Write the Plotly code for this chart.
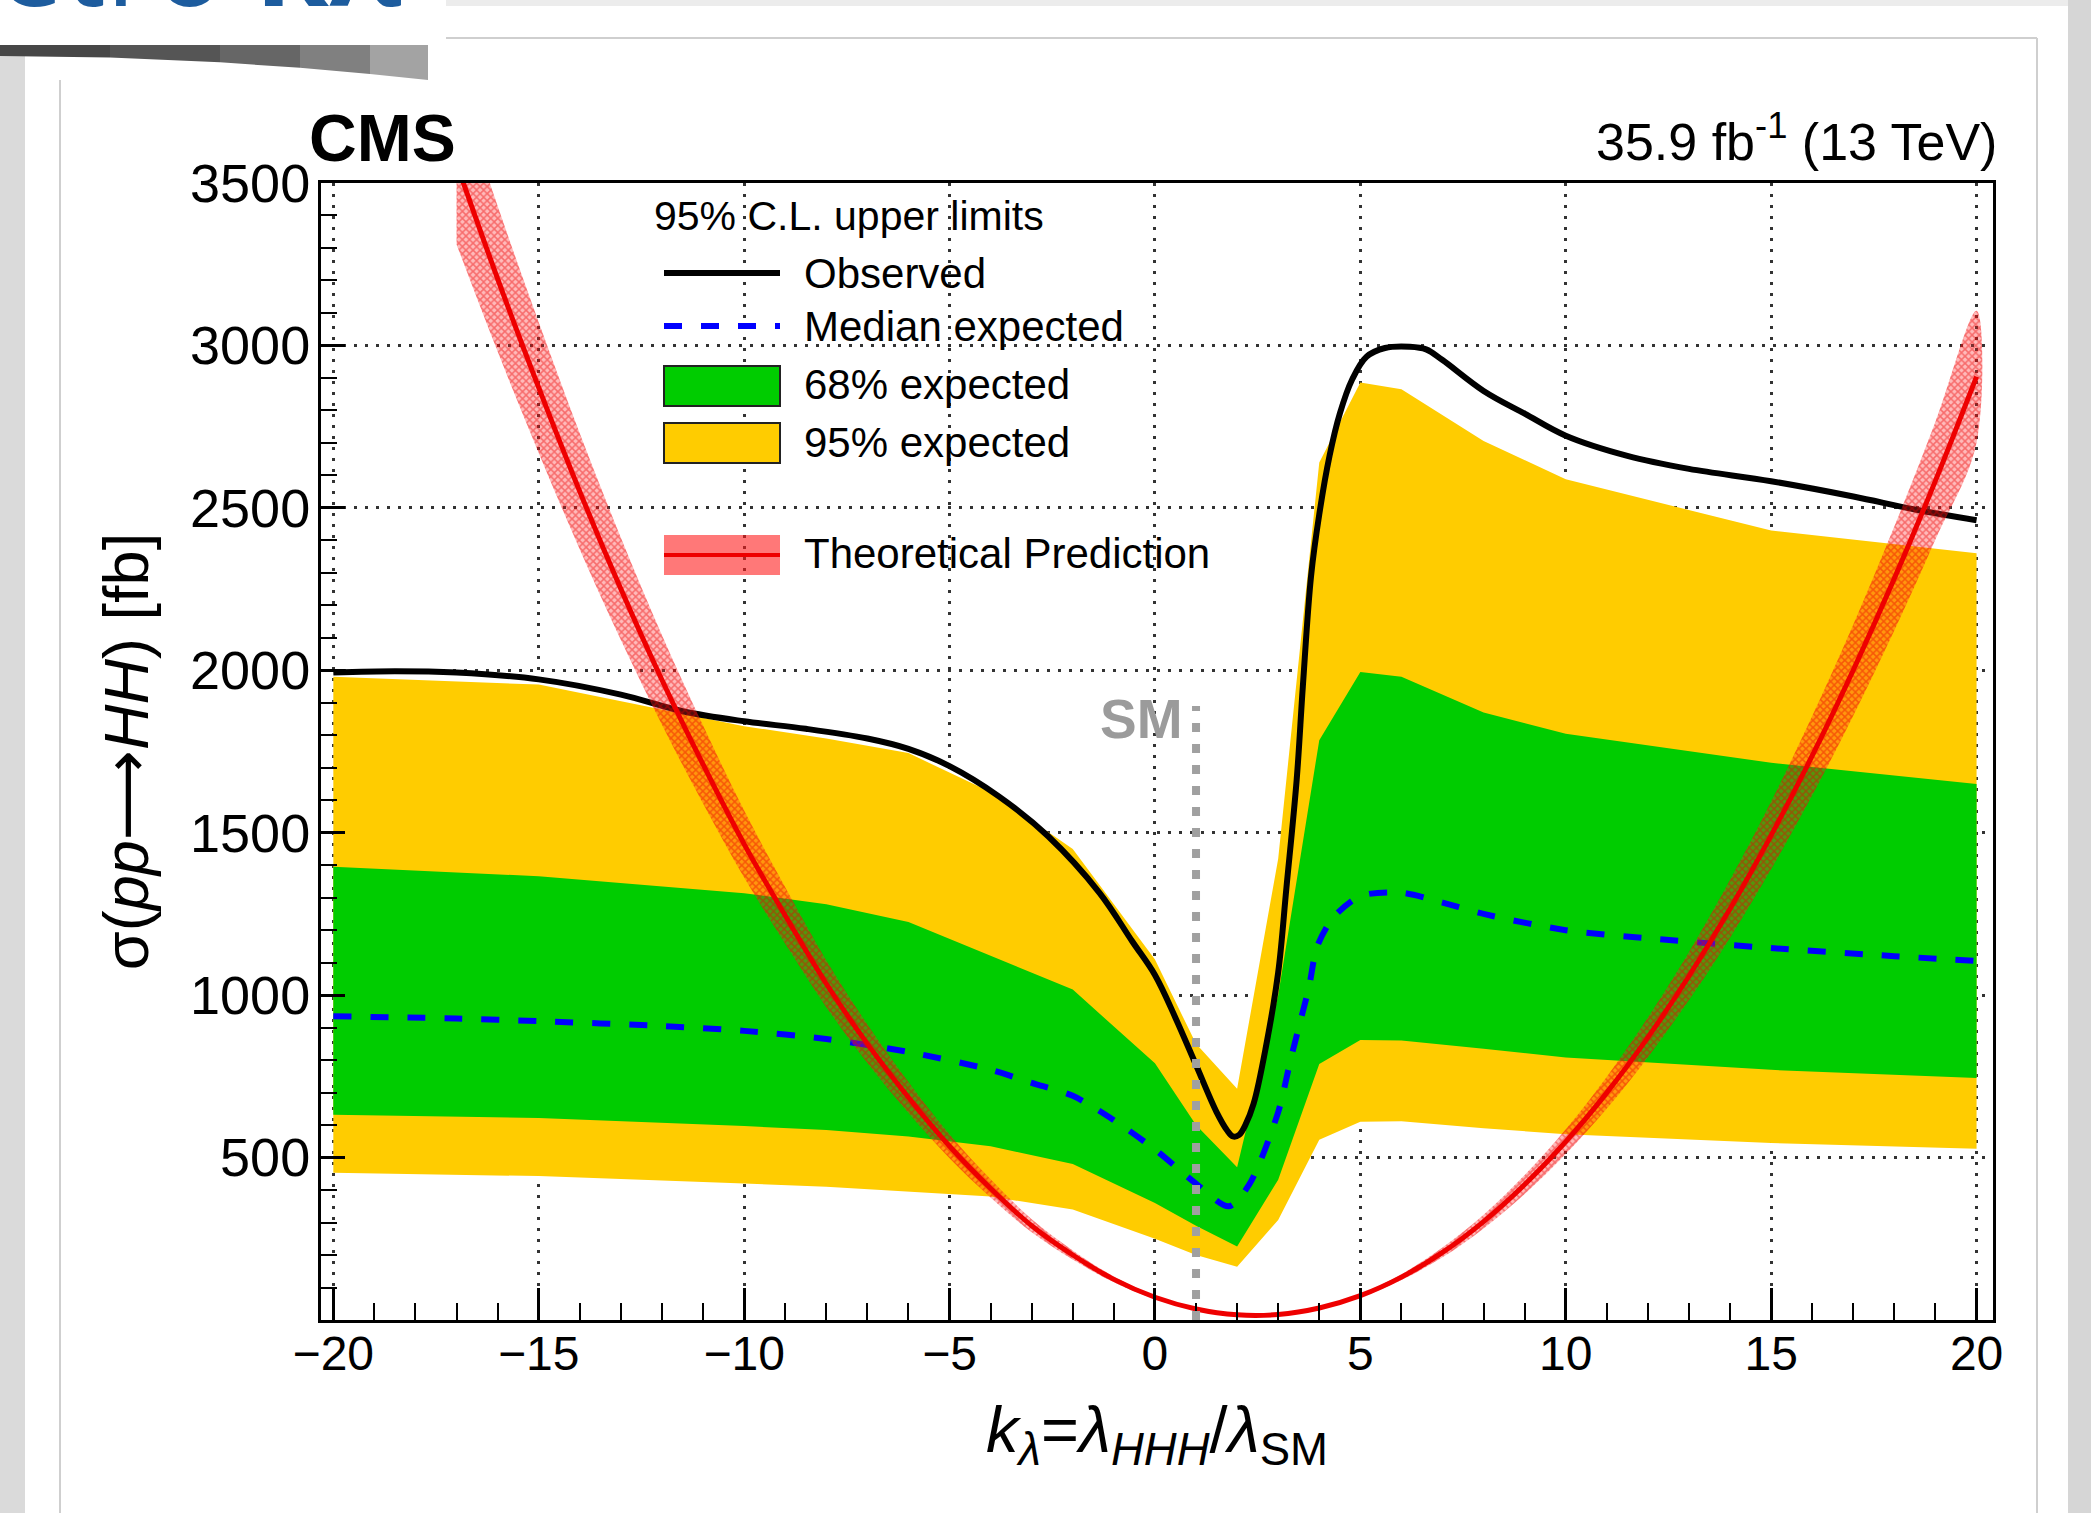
import plotly.graph_objects as go

# ---------------------------------------------------------------------------
# Data: 95% CL upper limits on sigma(pp -> HH) versus k_lambda
# ---------------------------------------------------------------------------
band_kl = [-20, -15, -10, -8, -6, -4, -2, 0, 1, 2, 3, 4, 5, 6, 8, 10, 15, 20]
exp95_hi = [1980, 1956, 1828, 1790, 1745, 1625, 1450, 1110, 850, 712, 1420, 2640, 2886, 2865, 2706, 2588, 2430, 2360]
exp68_hi = [1395, 1366, 1314, 1280, 1225, 1120, 1017, 790, 600, 470, 1000, 1785, 1995, 1980, 1870, 1805, 1715, 1650]
exp68_lo = [632, 622, 597, 585, 565, 535, 480, 360, 290, 226, 432, 788, 862, 860, 835, 808, 770, 745]
exp95_lo = [453, 443, 420, 410, 395, 380, 340, 250, 200, 164, 308, 555, 610, 612, 590, 572, 545, 527]

median_kl = [-20, -17, -15, -12, -10, -8, -6, -4, -3, -2, -1, 0, 1, 1.8, 2.3, 3.0, 3.3, 3.5,
             3.75, 3.95, 4.35, 5, 6, 7, 8, 10, 12, 15, 18, 20]
median_exp = [935, 928, 920, 905, 890, 865, 825, 770, 730, 690, 615, 525, 420, 350, 418, 640, 800, 900,
              1025, 1150, 1240, 1305, 1315, 1285, 1250, 1200, 1175, 1145, 1120, 1105]

observed_kl = [-20, -18.5, -17, -15, -13, -11.5, -10, -8.5, -7, -6, -5, -3.8, -2.6, -1.35, -0.55,
               0, 0.5, 1, 1.5, 1.75, 1.9, 2.05, 2.2, 2.4, 2.7, 3.0, 3.2, 3.45, 3.6, 3.8, 4.0,
               4.25, 4.5, 4.8, 5.15, 5.6, 6.2, 6.6, 7, 8, 9, 10, 11.5, 13, 15, 17, 18.5, 20]
observed = [1993, 1997, 1993, 1972, 1925, 1874, 1843, 1820, 1790, 1758, 1705, 1612, 1489, 1315, 1165,
            1062, 930, 785, 640, 585, 565, 570, 600, 665, 840, 1070, 1330, 1663, 1950, 2290, 2480,
            2660, 2790, 2895, 2965, 2992, 2996, 2988, 2955, 2860, 2790, 2722, 2660, 2620, 2582, 2535,
            2495, 2462]

theory_kl = list(range(-17, 21))
theory = [3560, 3205, 2870, 2550, 2250, 1970, 1710, 1465, 1245, 1035, 850, 685, 535, 405, 290, 200,
          125, 70, 34, 16, 17, 37, 75, 132, 208, 303, 417, 549, 700, 870, 1059, 1266, 1492, 1737,
          2001, 2283, 2584, 2904]
theory_up = [3809, 3429, 3071, 2729, 2408, 2108, 1830, 1568, 1332, 1107, 910, 733, 572, 433, 310, 214,
             134, 75, 36, 17, 18, 40, 80, 141, 223, 324, 446, 587, 749, 931, 1133, 1355, 1596, 1859,
             2141, 2443, 2765, 3107]
theory_dn = [3311, 2981, 2669, 2372, 2093, 1832, 1590, 1362, 1158, 963, 791, 637, 498, 377, 270, 186,
             116, 65, 32, 15, 16, 34, 70, 123, 193, 282, 388, 511, 651, 809, 985, 1177, 1388, 1615,
             1861, 2123, 2403, 2701]

SM_KL = 1.0          # Standard Model point
SM_LINE_TOP = 1890   # top of the SM marker line [fb]

x_ticks = [-20, -15, -10, -5, 0, 5, 10, 15, 20]
y_ticks = [500, 1000, 1500, 2000, 2500, 3000, 3500]

legend_labels = ["Observed", "Median expected", "68% expected", "95% expected", "Theoretical Prediction"]

# ---------------------------------------------------------------------------
# Page geometry
# ---------------------------------------------------------------------------
W, H = 2091, 1513
PL, PR, PT, PB = 321, 1993, 183, 1320


def px(x):
    return (x - PL) / (PR - PL)


def py(y):
    return (PB - y) / (PB - PT)


FONT = "Liberation Sans, Arial, Helvetica, sans-serif"
YELLOW = "#ffcc00"
GREEN = "#00cc00"

fig = go.Figure()

# expected bands
fig.add_trace(go.Scatter(
    x=band_kl + band_kl[::-1], y=exp95_hi + exp95_lo[::-1],
    fill="toself", fillcolor=YELLOW, mode="lines", line=dict(width=0),
    hoverinfo="skip", showlegend=False))
fig.add_trace(go.Scatter(
    x=band_kl + band_kl[::-1], y=exp68_hi + exp68_lo[::-1],
    fill="toself", fillcolor=GREEN, mode="lines", line=dict(width=0),
    hoverinfo="skip", showlegend=False))

# median expected and observed limits
fig.add_trace(go.Scatter(
    x=median_kl, y=median_exp, mode="lines",
    line=dict(color="#0000ff", width=6, dash="18px,19px", shape="spline", smoothing=0.8),
    showlegend=False))
fig.add_trace(go.Scatter(
    x=observed_kl, y=observed, mode="lines",
    line=dict(color="black", width=6, shape="spline", smoothing=1.0),
    showlegend=False))

# theoretical prediction with its uncertainty band
fig.add_trace(go.Scatter(
    x=theory_kl + theory_kl[::-1], y=theory_up + theory_dn[::-1],
    fill="toself", fillcolor="rgba(255,0,0,0.3)", mode="lines",
    line=dict(width=0, shape="spline"),
    fillpattern=dict(shape="x", size=5, solidity=0.5,
                     fgcolor="rgba(235,0,0,0.85)", bgcolor="rgba(255,40,40,0.32)"),
    hoverinfo="skip", showlegend=False))
fig.add_trace(go.Scatter(
    x=theory_kl, y=theory, mode="lines",
    line=dict(color="#ee0000", width=5, shape="spline"),
    showlegend=False))

shapes = []

# SM marker line
shapes.append(dict(type="line", xref="x", yref="y", x0=SM_KL, x1=SM_KL, y0=0, y1=SM_LINE_TOP,
                   line=dict(color="#a0a0a0", width=8, dash="9px,12px")))

# legend swatches
LX0, LX1 = 664, 780
shapes.append(dict(type="line", xref="paper", yref="paper", x0=px(LX0), x1=px(LX1),
                   y0=py(273), y1=py(273), line=dict(color="black", width=6)))
shapes.append(dict(type="line", xref="paper", yref="paper", x0=px(LX0), x1=px(LX1),
                   y0=py(326), y1=py(326), line=dict(color="#0000ff", width=6, dash="18px,19px")))
shapes.append(dict(type="rect", xref="paper", yref="paper", x0=px(LX0), x1=px(LX1),
                   y0=py(406), y1=py(366), fillcolor=GREEN, line=dict(color="#222", width=2)))
shapes.append(dict(type="rect", xref="paper", yref="paper", x0=px(LX0), x1=px(LX1),
                   y0=py(463), y1=py(423), fillcolor=YELLOW, line=dict(color="#222", width=2)))
shapes.append(dict(type="rect", xref="paper", yref="paper", x0=px(LX0), x1=px(LX1),
                   y0=py(575), y1=py(535), fillcolor="rgba(255,30,30,0.6)", line=dict(width=0)))
shapes.append(dict(type="line", xref="paper", yref="paper", x0=px(LX0), x1=px(LX1),
                   y0=py(555), y1=py(555), line=dict(color="#ee0000", width=4)))

# slide frame decorations
GRAY_LINE = "#cfcfcf"
shapes.append(dict(type="rect", xref="paper", yref="paper", x0=px(0), x1=px(25), y0=py(56), y1=py(H),
                   fillcolor="#dadada", line=dict(width=0), layer="below"))
shapes.append(dict(type="rect", xref="paper", yref="paper", x0=px(2068), x1=px(W), y0=py(0), y1=py(H),
                   fillcolor="#d6d6d6", line=dict(width=0), layer="below"))
shapes.append(dict(type="rect", xref="paper", yref="paper", x0=px(446), x1=px(2068), y0=py(0), y1=py(6),
                   fillcolor="#ececec", line=dict(width=0), layer="below"))
shapes.append(dict(type="line", xref="paper", yref="paper", x0=px(446), x1=px(2037), y0=py(38), y1=py(38),
                   line=dict(color=GRAY_LINE, width=2), layer="below"))
shapes.append(dict(type="line", xref="paper", yref="paper", x0=px(60), x1=px(60), y0=py(80), y1=py(H),
                   line=dict(color=GRAY_LINE, width=2), layer="below"))
shapes.append(dict(type="line", xref="paper", yref="paper", x0=px(2037), x1=px(2037), y0=py(38), y1=py(H),
                   line=dict(color=GRAY_LINE, width=2), layer="below"))

# title-bar shadow, darker on the left
shadow = [(0, 110, "#474747"), (110, 220, "#555555"), (220, 300, "#666666"),
          (300, 370, "#808080"), (370, 428, "#a3a3a3")]
for x0, x1, col in shadow:
    b0 = 56 + (x0 / 428) ** 2 * 24
    b1 = 56 + (x1 / 428) ** 2 * 24
    path = (f"M {px(x0)},{py(45)} L {px(x1)},{py(45)} L {px(x1)},{py(b1)} "
            f"L {px(x0)},{py(b0)} Z")
    shapes.append(dict(type="path", xref="paper", yref="paper", path=path,
                       fillcolor=col, line=dict(width=0), layer="below"))

annotations = []
annotations.append(dict(xref="paper", yref="paper", x=px(307), y=py(138), xanchor="left", yanchor="middle",
                        text="<b>CMS</b>", showarrow=False, font=dict(family=FONT, size=66, color="black")))
annotations.append(dict(xref="paper", yref="paper", x=px(1999), y=py(138), xanchor="right", yanchor="middle",
                        text="35.9 fb<sup>-1</sup> (13 TeV)", showarrow=False,
                        font=dict(family=FONT, size=52, color="black")))
annotations.append(dict(xref="x", yref="y", x=0.73, y=1850, xanchor="right", yanchor="middle",
                        text="<b>SM</b>", showarrow=False, font=dict(family=FONT, size=55, color="#9b9b9b")))

# legend text
annotations.append(dict(xref="paper", yref="paper", x=px(652), y=py(216), xanchor="left", yanchor="middle",
                        text="95% C.L. upper limits", showarrow=False,
                        font=dict(family=FONT, size=41, color="black")))
for label, yc in zip(legend_labels, [273, 326, 385, 442, 553]):
    annotations.append(dict(xref="paper", yref="paper", x=px(802), y=py(yc), xanchor="left",
                            yanchor="middle", text=label, showarrow=False,
                            font=dict(family=FONT, size=42, color="black")))

# slide heading, mostly above the page edge
annotations.append(dict(xref="paper", yref="paper", x=px(404), y=py(-40), xanchor="right", yanchor="middle",
                        text="Parametro <b>κλ</b>", showarrow=False,
                        font=dict(family="Open Sans, sans-serif", size=118, color="#1d5c9e")))

fig.update_layout(
    width=W, height=H, autosize=False,
    margin=dict(l=PL, r=W - PR, t=PT, b=H - PB, pad=0),
    paper_bgcolor="white", plot_bgcolor="white",
    showlegend=False,
    shapes=shapes, annotations=annotations,
    font=dict(family=FONT, color="black"),
)

fig.update_xaxes(
    range=[-20.3, 20.4], tickvals=x_ticks,
    ticks="inside", ticklen=32, tickwidth=2.5, tickcolor="black",
    minor=dict(dtick=1, tick0=0, ticks="inside", ticklen=17, tickwidth=2, tickcolor="black", showgrid=False),
    showgrid=True, gridcolor="#333333", gridwidth=2.5, griddash="3px,8px",
    showline=True, linewidth=3, linecolor="black", mirror=True, zeroline=False,
    tickfont=dict(family=FONT, size=48), ticklabelstandoff=-11,
    title=dict(text="<i>k</i><sub><i>λ</i></sub>=<i>λ</i><sub><i>HHH</i></sub>/<i>λ</i><sub>SM</sub>",
               font=dict(family=FONT, size=65), standoff=28),
)
fig.update_yaxes(
    range=[0, 3500], tickvals=y_ticks, tickformat="d",
    ticks="inside", ticklen=24, tickwidth=2.5, tickcolor="black",
    minor=dict(dtick=100, tick0=0, ticks="inside", ticklen=16, tickwidth=2, tickcolor="black", showgrid=False),
    showgrid=True, gridcolor="#333333", gridwidth=2.5, griddash="3px,8px",
    showline=True, linewidth=3, linecolor="black", mirror=True, zeroline=False,
    tickfont=dict(family=FONT, size=54), ticklabelstandoff=-3,
    title=dict(text="σ(<i>pp</i><span style='font-family:DejaVu Sans'>⟶</span><i>HH</i>) [fb]",
               font=dict(family=FONT, size=63), standoff=22),
)

fig.write_html("out.html")
